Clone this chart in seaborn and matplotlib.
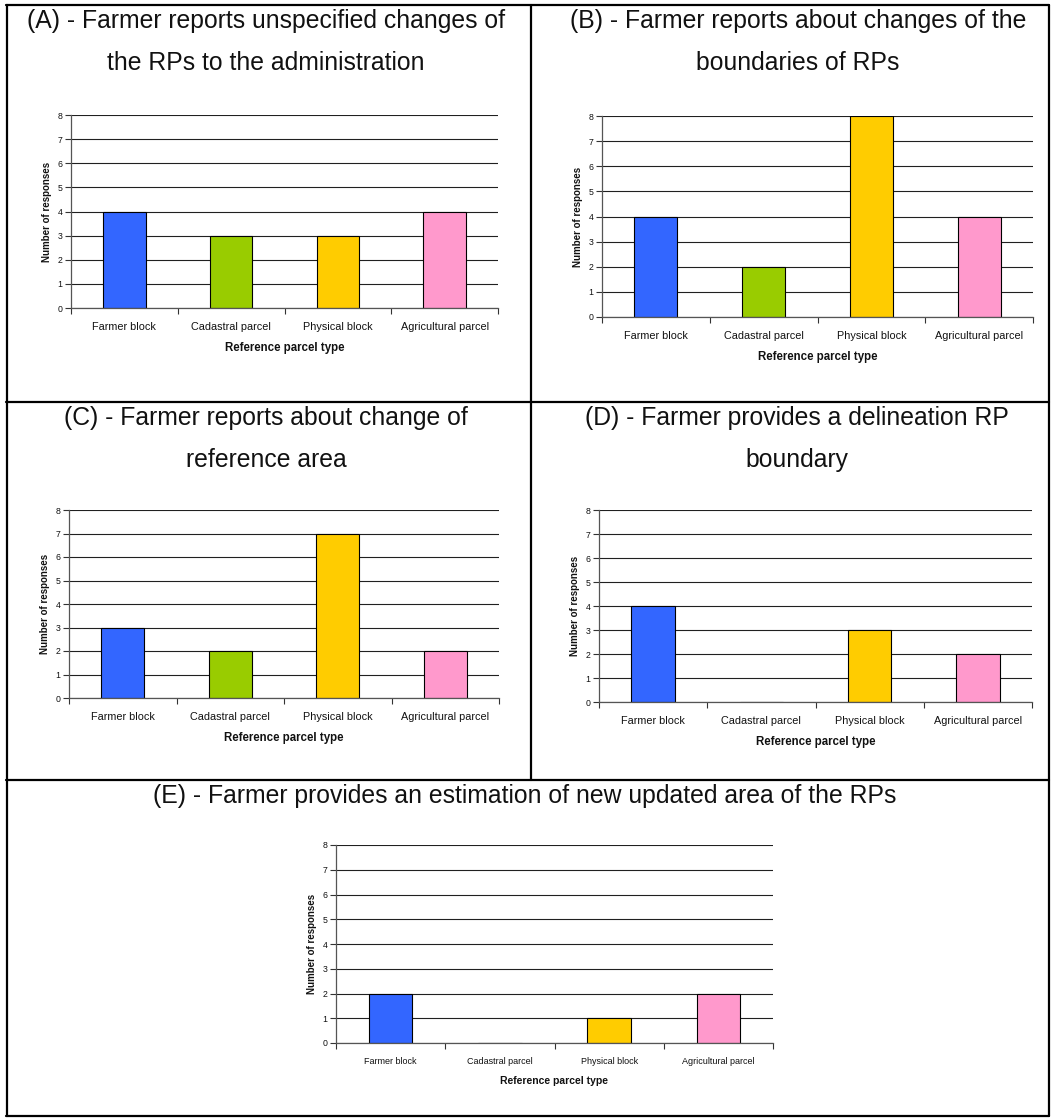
import matplotlib
matplotlib.use('Agg')
import matplotlib.pyplot as plt
import seaborn as sns
from matplotlib.lines import Line2D

sns.set_theme(style='white')
plt.rcParams['font.family'] = ['Liberation Sans', 'DejaVu Sans']

categories = ['Farmer block', 'Cadastral parcel', 'Physical block', 'Agricultural parcel']
colors = ['#3366FF', '#99CC00', '#FFCC00', '#FF99CC']

values_a = [4, 3, 3, 4]
values_b = [4, 2, 8, 4]
values_c = [3, 2, 7, 2]
values_d = [4, 0, 3, 2]
values_e = [2, 0, 1, 2]

title_a = ['(A) - Farmer reports unspecified changes of', 'the RPs to the administration']
title_b = ['(B) - Farmer reports about changes of the', 'boundaries of RPs']
title_c = ['(C) - Farmer reports about change of', 'reference area']
title_d = ['(D) - Farmer provides a delineation RP', 'boundary']
title_e = ['(E) - Farmer provides an estimation of new updated area of the RPs']

W, H = 1051, 1118
fig = plt.figure(figsize=(W / 100, H / 100), dpi=100)
fig.patch.set_facecolor('white')


def px_axes(left, top, right, bottom):
    return fig.add_axes([left / W, 1 - bottom / H, (right - left) / W, (bottom - top) / H])


def px_text(x, y, s, **kw):
    fig.text(x / W, 1 - y / H, s, ha='center', va='center', **kw)


def panel(box, values, title, tcx, tys, small=False):
    ax = px_axes(*box)
    sns.barplot(x=categories, y=values, hue=categories, palette=colors,
                legend=False, width=0.4, edgecolor='black', linewidth=0.8,
                saturation=1, ax=ax)
    ax.set_xlim(-0.5, 3.5)
    ax.set_ylim(0, 8)
    ax.set_yticks(range(0, 9))
    ax.yaxis.grid(True, color='#202020', linewidth=0.8)
    ax.set_axisbelow(True)
    for s in ['top', 'right']:
        ax.spines[s].set_visible(False)
    for s in ['left', 'bottom']:
        ax.spines[s].set_color('#555555')
        ax.spines[s].set_linewidth(0.9)
    # ticks at category boundaries, labels centred on the bars
    ax.set_xticks([-0.5, 0.5, 1.5, 2.5, 3.5])
    ax.set_xticklabels([])
    ax.set_xticks(range(4), minor=True)
    xs = 6.5 if small else 7.8
    ax.set_xticklabels(categories, minor=True, fontsize=xs, color='#111111')
    ax.tick_params(axis='x', which='major', direction='out', length=4,
                   width=0.8, color='#333333', bottom=True)
    ax.tick_params(axis='x', which='minor', length=0, pad=10)
    ax.tick_params(axis='y', direction='out', length=4, width=0.8,
                   color='#333333', left=True, labelsize=6.3, pad=2,
                   labelcolor='#111111')
    ax.set_xlabel('Reference parcel type', fontsize=8.3 if not small else 7.5,
                  fontweight='bold', labelpad=7, color='#111111')
    ax.set_ylabel('Number of responses', fontsize=7, fontweight='bold',
                  labelpad=4, color='#111111')
    for line, ty in zip(title, tys):
        px_text(tcx, ty, line, fontsize=17.8, color='#111111')
    return ax


panel((71, 115, 498, 308), values_a, title_a, 266, [21, 63])
panel((602, 116, 1033, 317), values_b, title_b, 798, [21, 63])
panel((69, 510, 499, 698), values_c, title_c, 266, [418, 460])
panel((599, 510, 1032, 702), values_d, title_d, 797, [418, 460])
panel((336, 845, 773, 1043), values_e, title_e, 525, [796], small=True)

# table borders
def hline(y, x0, x1):
    fig.add_artist(Line2D([x0 / W, x1 / W], [1 - y / H, 1 - y / H],
                          color='black', linewidth=1.6))


def vline(x, y0, y1):
    fig.add_artist(Line2D([x / W, x / W], [1 - y0 / H, 1 - y1 / H],
                          color='black', linewidth=1.6))


hline(5, 6, 1049)
hline(1116, 6, 1049)
vline(7, 5, 1116)
vline(1049, 5, 1116)
vline(531, 5, 780)
hline(402, 6, 1049)
hline(780, 6, 1049)

fig.savefig('out.png', dpi=100)
